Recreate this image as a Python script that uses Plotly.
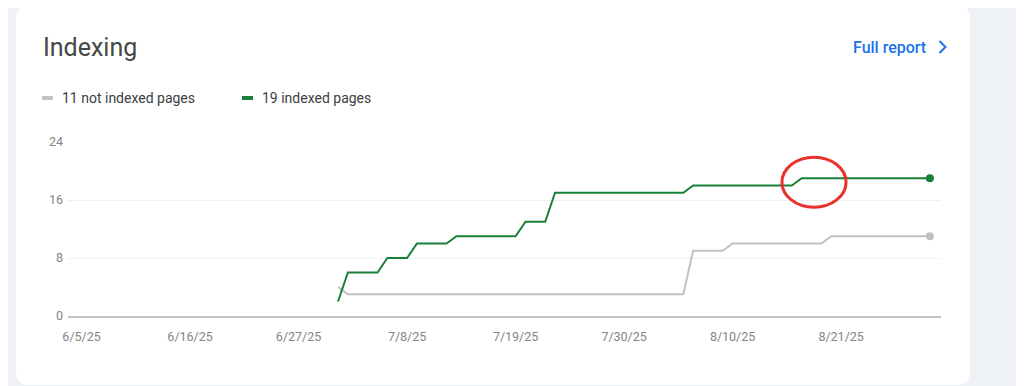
import pandas as pd
import plotly.graph_objects as go

# ---------------- data ----------------
dates = pd.date_range("2025-07-01", "2025-08-30", freq="D")

indexed_pages = [
    # July 1-31
    2, 6, 6, 6, 6, 8, 8, 8, 10, 10, 10, 10, 11, 11, 11, 11, 11, 11, 11, 13, 13, 13,
    17, 17, 17, 17, 17, 17, 17, 17, 17,
    # August 1-30
    17, 17, 17, 17, 17, 18, 18, 18, 18, 18, 18, 18, 18, 18, 18, 18,
    19, 19, 19, 19, 19, 19, 19, 19, 19, 19, 19, 19, 19, 19,
]
not_indexed_pages = [
    # July 1-31
    4, 3, 3, 3, 3, 3, 3, 3, 3, 3, 3, 3, 3, 3, 3, 3, 3, 3, 3, 3, 3, 3, 3, 3, 3, 3, 3, 3, 3, 3, 3,
    # August 1-30
    3, 3, 3, 3, 3, 9, 9, 9, 9, 10, 10, 10, 10, 10, 10, 10, 10, 10, 10,
    11, 11, 11, 11, 11, 11, 11, 11, 11, 11, 11,
]

x_tick_dates = ["2025-06-05", "2025-06-16", "2025-06-27", "2025-07-08",
                "2025-07-19", "2025-07-30", "2025-08-10", "2025-08-21"]
x_tick_labels = ["6/5/25", "6/16/25", "6/27/25", "7/8/25",
                 "7/19/25", "7/30/25", "8/10/25", "8/21/25"]
y_ticks = [0, 8, 16, 24]

GREEN = "#188038"
GREY = "#c2c2c2"
BG = "#eef2f7"
FONT = "Roboto"

# ---------------- layout geometry ----------------
# the page body adds an 8px offset, so the figure is sized to fit the window
OFF = 8
W, H = 1024 - OFF, 386 - OFF
L, R, T, B = 60, 83, 134, 70
PW, PH = W - L - R, H - T - B


def px(x):
    """screen x -> paper x"""
    return (x - OFF - L) / PW


def py(y):
    """screen y -> paper y"""
    return (H - B - (y - OFF)) / PH


def rounded_rect(x0, y0, x1, y1, r):
    pts = [
        ("M", [(x0 + r, y0)]), ("L", [(x1 - r, y0)]), ("Q", [(x1, y0), (x1, y0 + r)]),
        ("L", [(x1, y1 - r)]), ("Q", [(x1, y1), (x1 - r, y1)]),
        ("L", [(x0 + r, y1)]), ("Q", [(x0, y1), (x0, y1 - r)]),
        ("L", [(x0, y0 + r)]), ("Q", [(x0, y0), (x0 + r, y0)]),
    ]
    s = ""
    for cmd, ps in pts:
        s += cmd + " " + " ".join(f"{px(a):.5f},{py(b):.5f}" for a, b in ps) + " "
    return s + "Z"


fig = go.Figure()

fig.add_trace(go.Scatter(
    x=dates, y=not_indexed_pages, mode="lines", name="not indexed pages",
    line=dict(color=GREY, width=2), showlegend=False,
))
fig.add_trace(go.Scatter(
    x=dates, y=indexed_pages, mode="lines", name="indexed pages",
    line=dict(color=GREEN, width=2), showlegend=False,
))
fig.add_trace(go.Scatter(
    x=[dates[-1]], y=[not_indexed_pages[-1]], mode="markers",
    marker=dict(color=GREY, size=8), showlegend=False, cliponaxis=False,
))
fig.add_trace(go.Scatter(
    x=[dates[-1]], y=[indexed_pages[-1]], mode="markers",
    marker=dict(color=GREEN, size=8), showlegend=False, cliponaxis=False,
))

shapes = [
    # card
    dict(type="path", xref="paper", yref="paper", layer="below",
         path=rounded_rect(16, 5, 970, 385, 14),
         fillcolor="white", line=dict(width=0)),
    # legend swatches
    dict(type="line", xref="paper", yref="paper",
         x0=px(42), x1=px(53), y0=py(98), y1=py(98),
         line=dict(color=GREY, width=4)),
    dict(type="line", xref="paper", yref="paper",
         x0=px(242), x1=px(253), y0=py(98), y1=py(98),
         line=dict(color=GREEN, width=4)),
    # chevron of "Full report"
    dict(type="path", xref="paper", yref="paper",
         path=f"M {px(939.5)},{py(41)} L {px(945.5)},{py(47)} L {px(939.5)},{py(53)}",
         line=dict(color="#1a73e8", width=2)),
    # red highlight ellipse
    dict(type="circle", xref="x", yref="y",
         x0="2025-08-15 00:00", x1="2025-08-21 12:00", y0=15.0, y1=21.9,
         line=dict(color="#e8322b", width=3)),
]

annotations = [
    dict(text="Indexing", xref="paper", yref="paper", x=px(41), y=py(47),
         xanchor="left", yanchor="middle", showarrow=False,
         font=dict(family=FONT, size=25, color="#444746")),
    dict(text=f"{not_indexed_pages[-1]} not indexed pages", xref="paper", yref="paper",
         x=px(60), y=py(98), xanchor="left", yanchor="middle", showarrow=False,
         font=dict(family=FONT, size=14, color="#3c4043")),
    dict(text=f"{indexed_pages[-1]} indexed pages", xref="paper", yref="paper",
         x=px(260), y=py(98), xanchor="left", yanchor="middle", showarrow=False,
         font=dict(family=FONT, size=14, color="#3c4043")),
    dict(text="Full report", xref="paper", yref="paper",
         x=px(928), y=py(47), xanchor="right", yanchor="middle", showarrow=False,
         font=dict(family=FONT, size=16, color="#1a73e8", weight=500)),
]

fig.update_layout(
    width=W, height=H,
    margin=dict(l=L, r=R, t=T, b=B, pad=0),
    paper_bgcolor=BG, plot_bgcolor="rgba(0,0,0,0)",
    font=dict(family=FONT, size=12, color="#80868b"),
    shapes=shapes, annotations=annotations,
    hovermode=False,
)
fig.update_xaxes(
    range=["2025-06-03 15:00", "2025-08-31 03:00"],
    tickvals=x_tick_dates, ticktext=x_tick_labels,
    showgrid=False, zeroline=False,
    showline=True, linecolor="#c4c4c4", linewidth=2,
    ticks="", ticklabelstandoff=8,
    tickfont=dict(family=FONT, size=12.5, color="#80868b"),
)
fig.update_yaxes(
    range=[0, 24], tickvals=y_ticks,
    showgrid=True, gridcolor="#f0f0f0", gridwidth=1,
    zeroline=False, showline=False, ticks="", ticklabelstandoff=4,
    tickfont=dict(family=FONT, size=12.5, color="#80868b"),
)

fig.write_html("out.html")
